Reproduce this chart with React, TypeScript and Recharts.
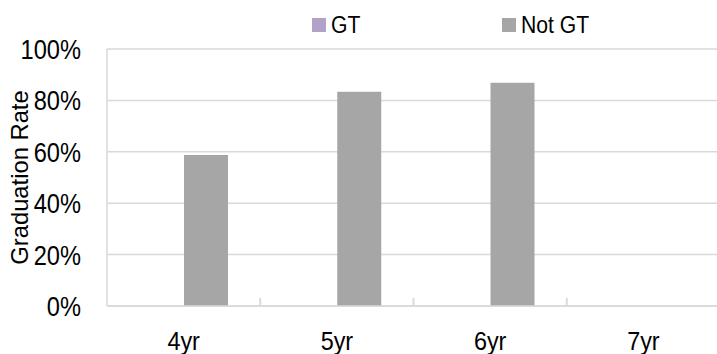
import React from 'react';
import { BarChart, Bar, XAxis, YAxis, CartesianGrid, Legend, ReferenceLine } from 'recharts';

const categories = ['4yr', '5yr', '6yr', '7yr'];
const gtValues: (number | null)[] = [null, null, null, null];
const notGtValues: (number | null)[] = [58.8, 83.4, 86.9, null];
const yTicks = [0, 20, 40, 60, 80, 100];
// small inward tick marks sit at the start of these categories
const boundaryCategories = ['5yr', '6yr', '7yr'];

const data = categories.map((c, i) => ({ name: c, gt: gtValues[i], notGt: notGtValues[i] }));

const FONT = "'Liberation Sans', Arial, sans-serif";
const GT_COLOR = '#B3A2C7';
const NOT_GT_COLOR = '#A6A6A6';
const GRID = '#D9D9D9';

// narrow-ish text, the source used a condensed face
const YTick = (props: any) => {
  const { x, y, payload } = props;
  return (
    <text transform={`translate(${x},${y}) scale(0.86,1)`} textAnchor="end" dy="0.36em" fontSize={27.5} fontFamily={FONT} fill="#000">
      {`${payload.value}%`}
    </text>
  );
};

const XTick = (props: any) => {
  const { x, y, payload } = props;
  return (
    <text transform={`translate(${x},${y}) scale(0.9,1)`} textAnchor="middle" dy={44} fontSize={26} fontFamily={FONT} fill="#000">
      {payload.value}
    </text>
  );
};

const YLabel = (props: any) => {
  const { viewBox } = props;
  const cy = viewBox.y + viewBox.height / 2;
  return (
    <text transform={`translate(28,${cy}) rotate(-90) scale(0.97,1)`} textAnchor="middle" fontSize={24.5} fontFamily={FONT} fill="#000">
      Graduation Rate
    </text>
  );
};

function LegendBox() {
  const item = (label: string, color: string, left: number) => (
    <div style={{ position: 'absolute', left, top: 0, display: 'flex', alignItems: 'center', height: 28 }}>
      <div style={{ width: 14, height: 14, background: color, marginRight: 5 }} />
      <span style={{ fontFamily: FONT, fontSize: 23.5, color: '#000', lineHeight: '28px', display: 'inline-block', transform: 'scaleX(0.9)', transformOrigin: 'left center', whiteSpace: 'nowrap' }}>{label}</span>
    </div>
  );
  return (
    <div style={{ position: 'relative', height: 28, width: 717 }}>
      {item('GT', GT_COLOR, 312)}
      {item('Not GT', NOT_GT_COLOR, 502)}
    </div>
  );
}

export default function App() {
  return (
    <div style={{ position: 'absolute', left: 0, top: 0, width: 717, height: 354, background: '#fff' }}>
      <BarChart
        width={717}
        height={354}
        data={data}
        margin={{ top: 21, right: -3, left: 0, bottom: 0 }}
        barSize={44}
        barGap={0}
      >
        <CartesianGrid horizontal vertical={false} stroke={GRID} strokeWidth={1.5} />
        <XAxis
          dataKey="name"
          height={48}
          axisLine={{ stroke: GRID, strokeWidth: 1.5 }}
          tickLine={false}
          tickSize={0}
          tickMargin={0}
          tick={<XTick />}
        />
        <YAxis
          width={107}
          domain={[0, 100]}
          ticks={yTicks}
          axisLine={{ stroke: GRID, strokeWidth: 1.5 }}
          tickLine={false}
          tickSize={0}
          tickMargin={26}
          tick={<YTick />}
          label={<YLabel />}
        />
        <Legend
          verticalAlign="top"
          wrapperStyle={{ top: 11, left: 0, width: 717 }}
          content={() => <LegendBox />}
        />
        {boundaryCategories.map((c) => (
          <ReferenceLine
            key={c}
            position="start"
            segment={[{ x: c, y: 0 }, { x: c, y: 3.1 }]}
            stroke={GRID}
            strokeWidth={2}
            ifOverflow="visible"
          />
        ))}
        <Bar dataKey="gt" name="GT" fill={GT_COLOR} isAnimationActive={false} />
        <Bar dataKey="notGt" name="Not GT" fill={NOT_GT_COLOR} isAnimationActive={false} />
      </BarChart>
    </div>
  );
}
